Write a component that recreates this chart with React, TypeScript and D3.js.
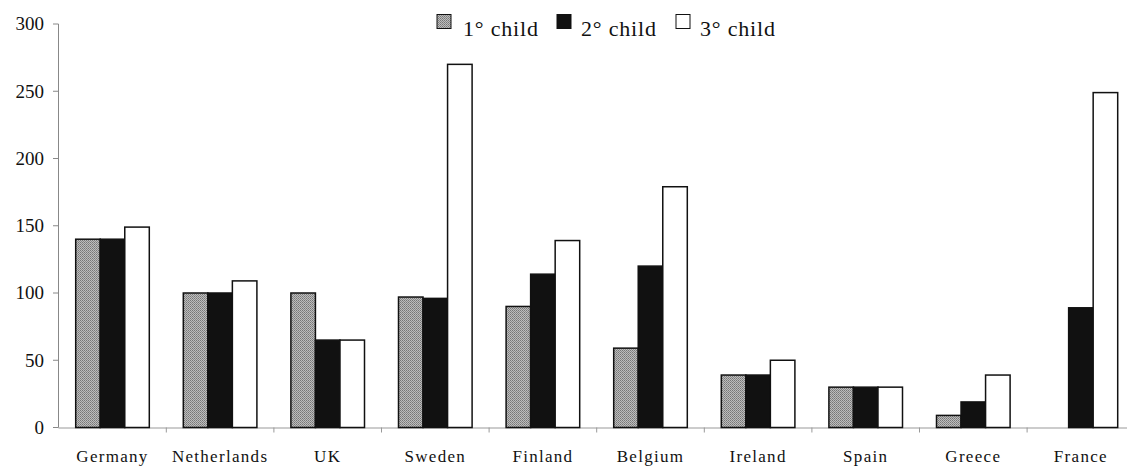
import React from "react";
import * as d3 from "d3";

const countries = ["Germany", "Netherlands", "UK", "Sweden", "Finland", "Belgium", "Ireland", "Spain", "Greece", "France"];
const seriesNames = ["1° child", "2° child", "3° child"];
const child1 = [140, 100, 100, 97, 90, 59, 39, 30, 9, 0];
const child2 = [140, 100, 65, 96, 114, 120, 39, 30, 19, 89];
const child3 = [149, 109, 65, 270, 139, 179, 50, 30, 39, 249];
const yTicks = [0, 50, 100, 150, 200, 250, 300];

const W = 1127;
const H = 469;
const FONT = "'Liberation Serif', 'DejaVu Serif', serif";

export default function App() {
  const x = d3.scaleBand<string>().domain(countries).range([58.7, 1134.7]).paddingInner(0).paddingOuter(0);
  const y = d3.scaleLinear().domain([0, 300]).range([427.5, 24]);
  const series = [child1, child2, child3];
  const fills = ["url(#stipple)", "#111", "#fff"];
  const groupPad = 17;
  const sub = d3.scaleBand<number>().domain([0, 1, 2]).range([groupPad, x.bandwidth() - groupPad]).padding(0);

  const legendItems = [
    { sx: 437, tx: 463 },
    { sx: 557, tx: 581 },
    { sx: 676, tx: 700 },
  ];
  const textStyle: React.CSSProperties = { fontFamily: FONT };

  return (
    <svg width={W} height={H} style={{ position: "absolute", left: 0, top: 0, background: "#fff" }}>
      <defs>
        <pattern id="stipple" width="2" height="2" patternUnits="userSpaceOnUse">
          <rect width="2" height="2" fill="#bdbdbd" />
          <rect x="0" y="0" width="1" height="1" fill="#777" />
          <rect x="1" y="1" width="1" height="1" fill="#8a8a8a" />
        </pattern>
      </defs>
      {/* y axis */}
      <line x1={58.5} x2={58.5} y1={y(300)} y2={y(0)} stroke="#888" strokeWidth={1} />
      {yTicks.map((t) => (
        <g key={t}>
          <line x1={53} x2={58.5} y1={y(t)} y2={y(t)} stroke="#888" />
          <text x={44} y={y(t)} dy="0.33em" textAnchor="end" style={textStyle} fontSize={19} fill="#111">
            {t}
          </text>
        </g>
      ))}
      {/* x axis */}
      <line x1={58.5} x2={W} y1={y(0) + 0.5} y2={y(0) + 0.5} stroke="#999" strokeWidth={1} />
      {countries.map((c) => (
        <line key={"t" + c} x1={(x(c) as number) + x.bandwidth()} x2={(x(c) as number) + x.bandwidth()} y1={y(0)} y2={y(0) + 5} stroke="#999" />
      ))}
      {/* bars */}
      {countries.map((c, i) => (
        <g key={c}>
          {series.map((s, k) =>
            s[i] > 0 ? (
              <rect
                key={k}
                x={(x(c) as number) + (sub(k) as number)}
                y={y(s[i])}
                width={sub.bandwidth()}
                height={y(0) - y(s[i])}
                fill={fills[k]}
                stroke="#111"
                strokeWidth={1.5}
              />
            ) : null
          )}
          <text
            x={(x(c) as number) + x.bandwidth() / 2}
            y={462}
            textAnchor="middle"
            style={textStyle}
            fontSize={17}
            letterSpacing={1.3}
            fill="#111"
          >
            {c}
          </text>
        </g>
      ))}
      {/* legend */}
      {seriesNames.map((n, k) => (
        <g key={n}>
          <rect x={legendItems[k].sx} y={14.5} width={14} height={14} fill={fills[k]} stroke="#111" strokeWidth={1} />
          <text x={legendItems[k].tx} y={36} style={textStyle} fontSize={22} letterSpacing={0.8} fill="#111">
            {n}
          </text>
        </g>
      ))}
    </svg>
  );
}
